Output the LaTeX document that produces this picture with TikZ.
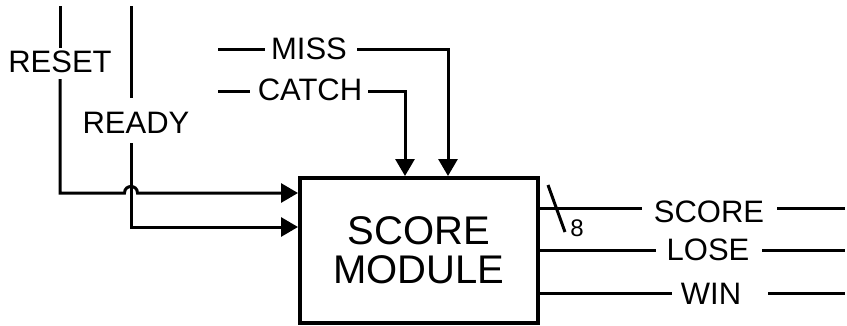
\documentclass[tikz,border=0pt]{standalone}
\usepackage{fontspec}
\setmainfont{Liberation Sans}
\usetikzlibrary{arrows.meta}
\begin{document}
\begin{tikzpicture}[x=1pt,y=-1pt,
  wire/.style={line width=3pt},
  lbl/.style={inner sep=0pt,text depth=0pt,font=\fontsize{31}{31}\selectfont},
  arr/.style={-{Triangle[length=17pt,width=19pt]}}]
\useasboundingbox (0,0) rectangle (847,325);
% block
\node[draw,line width=4pt,minimum width=238pt,minimum height=145pt,inner sep=0pt,
      align=center,font=\fontsize{40}{39}\selectfont] (box) at (419,250.5) {SCORE\\MODULE};
% labels
\node[lbl] (reset) at (60,62) {RESET};
\node[lbl] (ready) at (136,122.5) {READY};
\node[lbl] (miss) at (309,49) {MISS};
\node[lbl] (catch) at (310,90) {CATCH};
\node[lbl] (score) at (709,211.5) {SCORE};
\node[lbl] (lose) at (708,250) {LOSE};
\node[lbl] (win) at (711,293.5) {WIN};
\node[inner sep=0pt,text depth=0pt,font=\fontsize{24}{24}\selectfont] (eight) at (577,228) {8};
% coordinates at wire breaks
\coordinate (rsT) at (60,6);   \coordinate (rsA) at (60,48);  \coordinate (rsB) at (60,79);
\coordinate (rdT) at (131,6);  \coordinate (rdA) at (131,98); \coordinate (rdB) at (131,143);
\coordinate (msA) at (218,49); \coordinate (msB) at (265,49); \coordinate (msC) at (357,49);
\coordinate (ctA) at (218,91); \coordinate (ctB) at (250,91); \coordinate (ctC) at (368,91);
\coordinate (scA) at (642,208); \coordinate (scB) at (777,208); \coordinate (scE) at (845,208);
\coordinate (lsA) at (656,250); \coordinate (lsB) at (762,250); \coordinate (lsE) at (845,250);
\coordinate (wnA) at (672,293); \coordinate (wnB) at (768,293); \coordinate (wnE) at (845,293);
\coordinate (slA) at (548,185); \coordinate (slB) at (565,232);
% RESET
\draw[wire] (rsT) -- (rsA);
\draw[wire,arr] (rsB) -- (60,193) -- (124.5,193)
   .. controls (124.5,184.3) and (137.5,184.3) .. (137.5,193) -- (box.west |- 0,193);
% READY
\draw[wire] (rdT) -- (rdA);
\draw[wire,arr] (rdB) -- (131,227) -- (box.west |- 0,227);
% MISS / CATCH
\draw[wire] (msA) -- (msB);
\draw[wire,arr] (msC) -- (448,49) -- (448,0 |- box.north);
\draw[wire] (ctA) -- (ctB);
\draw[wire,arr] (ctC) -- (405,91) -- (405,0 |- box.north);
% outputs
\draw[wire] (box.east |- scA) -- (scA);
\draw[wire] (scB) -- (scE);
\draw[wire] (box.east |- lsA) -- (lsA);
\draw[wire] (lsB) -- (lsE);
\draw[wire] (box.east |- wnA) -- (wnA);
\draw[wire] (wnB) -- (wnE);
\draw[wire] (slA) -- (slB);
\end{tikzpicture}
\end{document}
